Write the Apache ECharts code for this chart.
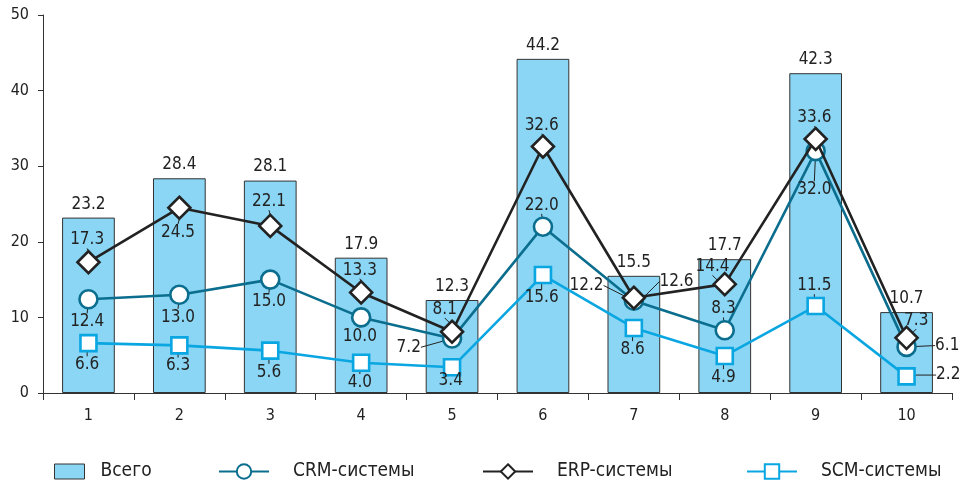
<!DOCTYPE html>
<html><head><meta charset="utf-8">
<script src="https://cdn.jsdelivr.net/npm/echarts@6/dist/echarts.min.js"></script>
<style>html,body{margin:0;padding:0;background:#fff}#c{width:962px;height:481px}</style>
</head><body><div id="c"></div>
<script>
const categories = ['1','2','3','4','5','6','7','8','9','10'];
const total = [23.2, 28.4, 28.1, 17.9, 12.3, 44.2, 15.5, 17.7, 42.3, 10.7];
const crm = [12.4, 13.0, 15.0, 10.0, 7.2, 22.0, 12.2, 8.3, 32.0, 6.1];
const erp = [17.3, 24.5, 22.1, 13.3, 8.1, 32.6, 12.6, 14.4, 33.6, 7.3];
const scm = [6.6, 6.3, 5.6, 4.0, 3.4, 15.6, 8.6, 4.9, 11.5, 2.2];
const seriesNames = ['Всего', 'CRM-системы', 'ERP-системы', 'SCM-системы'];

const FONT = "'DejaVu Sans Condensed','DejaVu Sans',sans-serif";
const lblStyle = {fontFamily: FONT, fontSize: 17, color: '#222'};
const fmt = p => Number(p.value).toFixed(1);

// label offsets relative to the marker: [dx, dy, leaderLine?]
const crmOff = [[0,24],[0,24],[0,23],[0,20],[-42,10,1],[0,-20],[-46,-14,1],[0,-20],[0,40],[42,0,1]];
const erpOff = [[0,-21],[0,26],[0,-23],[0,-21],[-6,-21],[0,-20],[44,-15,1],[-11,-16,1],[0,-20],[11,-16]];
const scmOff = [[0,23],[0,22],[0,23],[0,21],[0,15],[0,24],[0,23],[0,23],[0,-19],[43,0,1]];

function mk(vals, off, size) {
  return vals.map((v, i) => {
    const o = off[i];
    const p = o[2] ? [size / 2, size / 2] : [size / 2 + o[0], size / 2 + o[1]];
    return {value: v, label: {position: p, align: 'center', verticalAlign: 'middle'}};
  });
}
function layoutFn(off) {
  return function (p) {
    const q = off[p.dataIndex];
    return q[2] ? {dx: q[0], dy: q[1]} : {dx: 0, dy: 0};
  };
}
function lineSeries(name, vals, off, color, symbol, size, z) {
  return {
    name: name, type: 'line', data: mk(vals, off, size),
    symbol: symbol, symbolSize: size,
    lineStyle: {color: color, width: 2.6},
    itemStyle: {color: '#fff', borderColor: color, borderWidth: 2.6},
    label: Object.assign({show: true, formatter: fmt}, lblStyle),
    labelLayout: layoutFn(off),
    labelLine: {show: true, lineStyle: {color: '#222', width: 1}},
    emphasis: {disabled: true},
    z: z
  };
}

const legendText = {fontFamily: FONT, fontSize: 19, color: '#222'};
const legendBase = {top: 462, padding: 0};
const chart = echarts.init(document.getElementById('c'));
chart.setOption({
  animation: false,
  grid: {left: 43, right: 10, top: 15, bottom: 88},
  legend: [
    Object.assign({data: [{name: seriesNames[0], icon: 'rect'}], left: 54, itemWidth: 30, itemHeight: 15,
     itemStyle: {borderColor: '#333', borderWidth: 1},
     textStyle: Object.assign({padding: [0, 0, 0, 11]}, legendText)}, legendBase),
    Object.assign({data: [seriesNames[1]], left: 218, itemWidth: 50, itemHeight: 18,
     textStyle: Object.assign({padding: [0, 0, 0, 19]}, legendText)}, legendBase),
    Object.assign({data: [seriesNames[2]], left: 482, itemWidth: 50, itemHeight: 18,
     textStyle: Object.assign({padding: [0, 0, 0, 19]}, legendText)}, legendBase),
    Object.assign({data: [seriesNames[3]], left: 746, itemWidth: 50, itemHeight: 18,
     textStyle: Object.assign({padding: [0, 0, 0, 19]}, legendText)}, legendBase)
  ],
  xAxis: {
    type: 'category', data: categories,
    axisLine: {lineStyle: {color: '#333', width: 1}},
    axisTick: {show: true, length: 7, lineStyle: {color: '#333'}},
    axisLabel: {fontFamily: FONT, fontSize: 16, color: '#222', margin: 15}
  },
  yAxis: {
    type: 'value', min: 0, max: 50, interval: 10,
    axisLine: {show: true, lineStyle: {color: '#333', width: 1}},
    axisTick: {show: true, length: 5, lineStyle: {color: '#333'}},
    splitLine: {show: false},
    axisLabel: {fontFamily: FONT, fontSize: 16, color: '#222', margin: 14}
  },
  series: [
    {
      name: seriesNames[0], type: 'bar', data: total, barWidth: '58%',
      itemStyle: {color: '#8ad6f4', borderColor: '#333', borderWidth: 1},
      label: Object.assign({show: true, position: 'top', distance: 5, formatter: fmt}, lblStyle),
      emphasis: {disabled: true},
      z: 1
    },
    lineSeries(seriesNames[1], crm, crmOff, '#0b6e8e', 'circle', 18, 3),
    lineSeries(seriesNames[2], erp, erpOff, '#222222', 'diamond', 22, 4),
    lineSeries(seriesNames[3], scm, scmOff, '#0aa6e2', 'rect', 16, 2)
  ]
});
</script></body></html>
